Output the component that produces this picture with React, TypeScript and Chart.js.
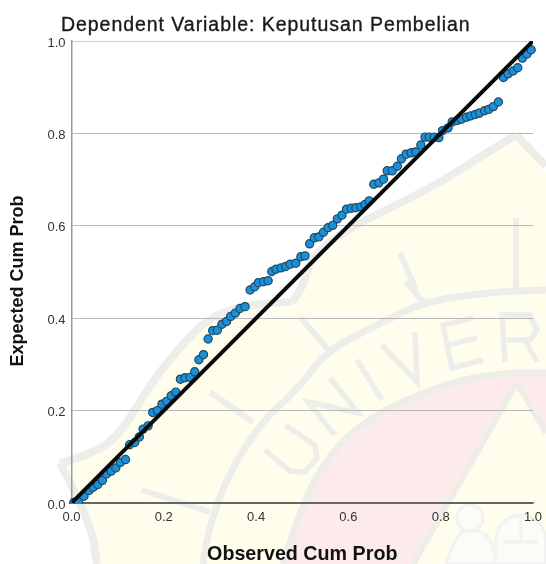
import React, { useEffect, useRef } from "react";
import { Chart, registerables } from "chart.js";

Chart.register(...registerables);

const chartTitle = "Dependent Variable: Keputusan Pembelian";
const xAxisTitle = "Observed Cum Prob";
const yAxisTitle = "Expected Cum Prob";

const observed = [
  0.005, 0.015, 0.027, 0.038, 0.047, 0.057, 0.067, 0.076, 0.086, 0.096,
  0.106, 0.117, 0.126, 0.137, 0.147, 0.155, 0.166, 0.176, 0.186, 0.196,
  0.206, 0.216, 0.226, 0.236, 0.246, 0.257, 0.267, 0.276, 0.286, 0.296,
  0.306, 0.316, 0.326, 0.336, 0.345, 0.355, 0.365, 0.376, 0.387, 0.397,
  0.405, 0.416, 0.426, 0.434, 0.443, 0.454, 0.464, 0.474, 0.486, 0.497,
  0.506, 0.516, 0.526, 0.536, 0.546, 0.556, 0.566, 0.576, 0.586, 0.596,
  0.606, 0.616, 0.627, 0.636, 0.645, 0.655, 0.666, 0.676, 0.684, 0.695,
  0.706, 0.715, 0.725, 0.736, 0.746, 0.757, 0.766, 0.775, 0.786, 0.796,
  0.804, 0.816, 0.825, 0.836, 0.845, 0.856, 0.865, 0.875, 0.884, 0.895,
  0.904, 0.914, 0.925, 0.936, 0.946, 0.957, 0.967, 0.977, 0.987, 0.996,
];

const expected = [
  0.001, 0.002, 0.0145, 0.027, 0.034, 0.04, 0.049, 0.063, 0.069, 0.076,
  0.088, 0.094, 0.126, 0.131, 0.143, 0.16, 0.167, 0.196, 0.2, 0.214,
  0.22, 0.232, 0.24, 0.268, 0.271, 0.272, 0.284, 0.31, 0.321, 0.355,
  0.373, 0.374, 0.387, 0.393, 0.404, 0.411, 0.421, 0.425, 0.461, 0.468,
  0.477, 0.479, 0.481, 0.501, 0.506, 0.509, 0.512, 0.517, 0.519, 0.533,
  0.535, 0.561, 0.574, 0.576, 0.586, 0.596, 0.601, 0.615, 0.623, 0.636,
  0.638, 0.639, 0.641, 0.646, 0.654, 0.69, 0.693, 0.701, 0.719, 0.719,
  0.729, 0.745, 0.755, 0.758, 0.76, 0.775, 0.792, 0.792, 0.792, 0.791,
  0.806, 0.812, 0.825, 0.828, 0.831, 0.835, 0.838, 0.841, 0.844, 0.849,
  0.852, 0.858, 0.868, 0.921, 0.929, 0.935, 0.942, 0.963, 0.972, 0.981,
];

const referenceX = [0, 1];
const referenceY = [0, 1];

type Pt = [number, number];

function smooth(ctx: CanvasRenderingContext2D, pts: Pt[], start = true) {
  if (start) ctx.moveTo(pts[0][0], pts[0][1]);
  for (let i = 1; i < pts.length - 1; i++) {
    const mx = (pts[i][0] + pts[i + 1][0]) / 2;
    const my = (pts[i][1] + pts[i + 1][1]) / 2;
    ctx.quadraticCurveTo(pts[i][0], pts[i][1], mx, my);
  }
  const l = pts[pts.length - 1];
  ctx.lineTo(l[0], l[1]);
}

const watermarkPlugin = {
  id: "watermark",
  beforeDraw(chart: any) {
    const ctx: CanvasRenderingContext2D = chart.ctx;
    ctx.save();
    ctx.fillStyle = "#ffffff";
    ctx.fillRect(0, 0, 546, 564);

    // pale yellow shield
    ctx.fillStyle = "#fffeec";
    ctx.beginPath();
    smooth(ctx, [[62, 466], [97, 456], [123, 434], [153, 384], [187, 343], [213, 320], [253, 309], [292, 308]]);
    smooth(ctx, [[292, 308], [304, 296], [313, 258], [357, 229], [433, 192], [480, 162], [516, 140]], false);
    ctx.lineTo(546, 172);
    ctx.lineTo(546, 564);
    ctx.lineTo(97, 564);
    ctx.lineTo(90, 522);
    ctx.closePath();
    ctx.fill();

    // pale red sectors
    ctx.fillStyle = "#fdebeb";
    ctx.beginPath();
    smooth(ctx, [[283, 564], [303, 500], [337, 443], [383, 410], [450, 382], [503, 373], [517, 373]]);
    ctx.lineTo(517, 383);
    ctx.lineTo(413, 564);
    ctx.closePath();
    ctx.fill();
    ctx.beginPath();
    ctx.moveTo(517, 373);
    ctx.lineTo(546, 373);
    ctx.lineTo(546, 433);
    ctx.lineTo(517, 383);
    ctx.closePath();
    ctx.fill();

    // grey seal outlines
    ctx.strokeStyle = "#ededea";
    ctx.lineCap = "butt";
    ctx.lineJoin = "round";
    const bands: { w: number; pts: Pt[] }[] = [
      { w: 8, pts: [[60, 463], [97, 453], [123, 430], [153, 380], [187, 339], [213, 315], [253, 304], [292, 302]] },
      { w: 8, pts: [[292, 302], [302, 290], [313, 253], [357, 224], [433, 187], [480, 157], [516, 135]] },
      { w: 8, pts: [[516, 135], [546, 166]] },
      { w: 8, pts: [[60, 463], [90, 520], [97, 564]] },
      { w: 7, pts: [[203, 564], [210, 513], [253, 430], [300, 387], [327, 350], [383, 322], [423, 302], [490, 292], [546, 290]] },
      { w: 7, pts: [[283, 564], [303, 500], [337, 443], [383, 410], [450, 382], [503, 373], [546, 373]] },
      { w: 6, pts: [[210, 392], [253, 422]] },
      { w: 6, pts: [[142, 490], [210, 512]] },
      { w: 6, pts: [[300, 317], [330, 352]] },
      { w: 6, pts: [[406, 282], [423, 302]] },
      { w: 6, pts: [[400, 253], [416, 290]] },
      { w: 6, pts: [[516, 218], [516, 290]] },
      { w: 6, pts: [[517, 383], [546, 433]] },
      { w: 6, pts: [[517, 383], [413, 564]] },
    ];
    for (const b of bands) {
      ctx.lineWidth = b.w;
      ctx.beginPath();
      smooth(ctx, b.pts);
      ctx.stroke();
    }

    // seal lettering, traced as strokes
    ctx.lineWidth = 5.5;
    ctx.lineJoin = "miter";
    const glyphs: Pt[][] = [
      [[265, 450], [290, 471], [305, 472], [317, 458], [315, 445], [285, 425]],
      [[335, 435], [308, 402], [358, 413], [330, 378]],
      [[382, 400], [357, 360]],
      [[382, 345], [417, 382], [415, 332]],
      [[473, 318], [443, 325], [452, 368], [483, 360]],
      [[448, 345], [477, 338]],
      [[505, 362], [502, 315], [530, 315], [537, 330], [530, 340], [507, 340]],
      [[525, 340], [537, 362]],
    ];
    for (const g of glyphs) {
      ctx.beginPath();
      ctx.moveTo(g[0][0], g[0][1]);
      for (let i = 1; i < g.length; i++) ctx.lineTo(g[i][0], g[i][1]);
      ctx.stroke();
    }

    // figures at lower right
    ctx.fillStyle = "#fbfbf8";
    ctx.strokeStyle = "#f2f2f0";
    ctx.lineWidth = 3;
    ctx.beginPath();
    smooth(ctx, [[446, 564], [456, 535], [470, 528], [490, 535], [497, 564]]);
    ctx.closePath();
    ctx.fill();
    ctx.stroke();
    ctx.beginPath();
    ctx.arc(470, 518, 13, 0, Math.PI * 2);
    ctx.fill();
    ctx.stroke();
    ctx.beginPath();
    ctx.arc(521, 540, 25, Math.PI, 2 * Math.PI);
    ctx.lineTo(546, 564);
    ctx.lineTo(496, 564);
    ctx.closePath();
    ctx.fill();
    ctx.stroke();
    ctx.beginPath();
    ctx.moveTo(521, 515);
    ctx.lineTo(521, 540);
    ctx.moveTo(504, 542);
    ctx.lineTo(538, 542);
    ctx.stroke();
    ctx.restore();
  },
  afterDraw(chart: any) {
    const ctx: any = chart.ctx;
    ctx.save();
    ctx.font = "19.5px 'Liberation Sans'";
    ctx.letterSpacing = "0.95px";
    ctx.fillStyle = "#1a1a1a";
    ctx.strokeStyle = "#1a1a1a";
    ctx.lineWidth = 0.35;
    ctx.textAlign = "left";
    ctx.textBaseline = "alphabetic";
    ctx.fillText(chartTitle, 61, 30.5);
    ctx.strokeText(chartTitle, 61, 30.5);
    ctx.restore();

    ctx.save();
    ctx.translate(18, 281);
    ctx.rotate(-Math.PI / 2);
    ctx.font = "bold 18px 'Liberation Sans'";
    ctx.fillStyle = "#111111";
    ctx.textAlign = "center";
    ctx.textBaseline = "middle";
    ctx.fillText(yAxisTitle, 0, 0);
    ctx.restore();
  },
};

export default function App() {
  const ref = useRef<HTMLCanvasElement>(null);
  useEffect(() => {
    const chart = new Chart(ref.current!, {
      type: "scatter",
      data: {
        datasets: [
          {
            type: "line",
            label: "Reference",
            data: referenceX.map((x, i) => ({ x, y: referenceY[i] })),
            borderColor: "#0a0a0a",
            borderWidth: 4,
            pointRadius: 0,
            order: 0,
          },
          {
            label: "Observed",
            data: observed.map((x, i) => ({ x, y: expected[i] })),
            backgroundColor: "#1b8fd8",
            borderColor: "#1c4a63",
            borderWidth: 1.2,
            pointRadius: 4.1,
            clip: { left: 6, right: 6, top: 6, bottom: 1 },
            order: 1,
          },
        ],
      } as any,
      plugins: [watermarkPlugin],
      options: {
        animation: false,
        responsive: false,
        layout: { padding: { left: 0, right: 13, top: 41, bottom: 0 } },
        plugins: {
          legend: { display: false },
          tooltip: { enabled: false },
          title: { display: false },
        },
        scales: {
          x: {
            type: "linear",
            min: 0,
            max: 1,
            afterFit: (s: any) => {
              s.height = 61;
              s.paddingRight = 0;
              s.paddingLeft = 0;
            },
            grid: { display: false, drawTicks: false },
            border: { display: true, color: "#666666", width: 1.5 },
            ticks: {
              stepSize: 0.2,
              maxRotation: 0,
              autoSkip: false,
              padding: 7,
              color: "#333333",
              font: { family: "'Liberation Sans'", size: 13 },
              callback: (v: any) => Number(v).toFixed(1),
            },
            title: {
              display: true,
              text: xAxisTitle,
              color: "#111111",
              font: { family: "'Liberation Sans'", size: 19.7, weight: "bold", lineHeight: 1 },
              padding: { top: 0, bottom: 0 },
            },
          },
          y: {
            type: "linear",
            min: 0,
            max: 1,
            afterFit: (s: any) => {
              s.width = 71.5;
              s.paddingTop = 0;
              s.paddingBottom = 0;
            },
            grid: {
              drawTicks: false,
              color: (c: any) => (c.tick.value === 0 ? "#666666" : c.tick.value === 1 ? "#cccccc" : "#b8b8b8"),
              lineWidth: 1,
            },
            border: { display: true, color: "#999999", width: 1.5 },
            ticks: {
              stepSize: 0.2,
              autoSkip: false,
              padding: 6,
              labelOffset: 2,
              color: "#333333",
              font: { family: "'Liberation Sans'", size: 13 },
              callback: (v: any) => Number(v).toFixed(1),
            },
          },
        },
      } as any,
    });
    return () => chart.destroy();
  }, []);
  return (
    <canvas
      ref={ref}
      width={546}
      height={564}
      style={{ position: "absolute", left: 0, top: 0, width: 546, height: 564, display: "block" }}
    />
  );
}
